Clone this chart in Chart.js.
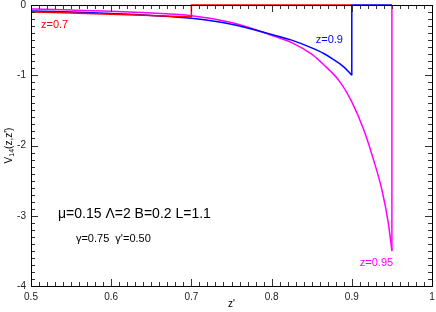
<!DOCTYPE html>
<html>
<head>
<meta charset="utf-8">
<script src="https://cdn.jsdelivr.net/npm/chart.js@4/dist/chart.umd.min.js"></script>
<style>
  body { margin: 0; background: #fff; }
  #wrap { width: 436px; height: 312px; }
</style>
</head>
<body>
<div id="wrap"><canvas id="chart" width="436" height="312"></canvas></div>
<script>
// valori
const xTicks = [0.5, 0.6, 0.7, 0.8, 0.9, 1.0];
const yTicks = [0, -1, -2, -3, -4];

// z = 0.7
const redX = [0.5, 0.55, 0.6, 0.65, 0.7];
const redY = [-0.10, -0.115, -0.132, -0.15, -0.17];
const redJumpX = [0.7, 0.7, 0.9];
const redJumpY = [-0.17, 0, 0];

// z = 0.9
const blueX = [0.5, 0.55, 0.6, 0.65, 0.7, 0.75, 0.8, 0.825, 0.85, 0.865, 0.875, 0.89, 0.9];
const blueY = [-0.085, -0.10, -0.122, -0.15, -0.19, -0.275, -0.42, -0.50, -0.61, -0.69, -0.76, -0.88, -1.0];
const blueJumpX = [0.9, 0.9, 0.95];
const blueJumpY = [-1.0, 0, 0];

// z = 0.95
const magX = [0.5, 0.55, 0.6, 0.65, 0.7, 0.75, 0.8, 0.825, 0.85, 0.865, 0.885, 0.9, 0.915, 0.927, 0.9375, 0.9455, 0.95];
const magY = [-0.057, -0.072, -0.09, -0.115, -0.152, -0.25, -0.43, -0.535, -0.70, -0.85, -1.09, -1.38, -1.78, -2.2, -2.63, -3.1, -3.5];
const magJumpX = [0.95, 0.95];
const magJumpY = [-3.5, 0];

// etichette nel grafico (coordinate dati)
const labels = [
  { text: 'z=0.7', x: 0.5125, y: -0.28, color: '#ff0000', size: 11 },
  { text: 'z=0.9', x: 0.855, y: -0.50, color: '#0000ff', size: 11 },
  { text: 'z=0.95', x: 0.910, y: -3.67, color: '#ff00ff', size: 11 },
  { text: 'μ=0.15 Λ=2 B=0.2 L=1.1', x: 0.5337, y: -2.97, color: '#000', size: 14 },
  { text: "γ=0.75  γ'=0.50", x: 0.556, y: -3.33, color: '#000', size: 11 }
];

const FONT = '"Liberation Sans", Arial, sans-serif';

function pts(xs, ys) {
  return xs.map((x, i) => ({ x: x, y: ys[i] }));
}

function curve(xs, ys, color) {
  return {
    data: pts(xs, ys),
    borderColor: color,
    borderWidth: 1.5,
    pointRadius: 0,
    cubicInterpolationMode: 'monotone',
    clip: 3
  };
}

function jump(xs, ys, color) {
  return {
    data: pts(xs, ys),
    borderColor: color,
    borderWidth: 1.5,
    pointRadius: 0,
    tension: 0,
    clip: 3
  };
}

// cornice, tacche interne e testi
const decorPlugin = {
  id: 'decor',
  afterDatasetsDraw(chart) {
    const ctx = chart.ctx;
    const a = chart.chartArea;
    const xs = chart.scales.x;
    const ys = chart.scales.y;
    ctx.save();
    ctx.strokeStyle = '#333';
    ctx.lineWidth = 1;
    ctx.beginPath();
    // tacche asse x (0.01)
    for (let i = 0; i <= 50; i++) {
      const v = 0.5 + i * 0.01;
      const px = Math.round(xs.getPixelForValue(v)) + 0.5;
      const len = (i % 10 === 0) ? 7 : 4;
      ctx.moveTo(px, a.bottom); ctx.lineTo(px, a.bottom - len);
      ctx.moveTo(px, a.top); ctx.lineTo(px, a.top + len);
    }
    // tacche asse y (0.1)
    for (let i = 0; i <= 40; i++) {
      const v = -i * 0.1;
      const py = Math.round(ys.getPixelForValue(v)) + 0.5;
      const len = (i % 10 === 0) ? 7 : 4;
      ctx.moveTo(a.left, py); ctx.lineTo(a.left + len, py);
      ctx.moveTo(a.right, py); ctx.lineTo(a.right - len, py);
    }
    ctx.stroke();
    ctx.strokeStyle = '#000';
    ctx.strokeRect(Math.round(a.left) + 0.5, Math.round(a.top) + 0.5,
                   Math.round(a.right - a.left), Math.round(a.bottom - a.top));

    // etichette
    ctx.textBaseline = 'middle';
    ctx.textAlign = 'left';
    labels.forEach(l => {
      ctx.fillStyle = l.color;
      ctx.font = l.size + 'px ' + FONT;
      ctx.fillText(l.text, xs.getPixelForValue(l.x), ys.getPixelForValue(l.y));
    });

    // titolo asse x
    ctx.fillStyle = '#000';
    ctx.font = '10px ' + FONT;
    ctx.textAlign = 'center';
    ctx.fillText("z'", (a.left + a.right) / 2, 304);

    // titolo asse y con pedice
    ctx.translate(9, (a.top + a.bottom) / 2);
    ctx.rotate(-Math.PI / 2);
    ctx.textAlign = 'left';
    const w1 = ctx.measureText('V').width;
    ctx.font = '7px ' + FONT;
    const w2 = ctx.measureText('14').width;
    ctx.font = '10px ' + FONT;
    const w3 = ctx.measureText("(z,z')").width;
    let x0 = -(w1 + w2 + w3) / 2;
    ctx.fillText('V', x0, 0);
    ctx.font = '7px ' + FONT;
    ctx.fillText('14', x0 + w1, 3);
    ctx.font = '10px ' + FONT;
    ctx.fillText("(z,z')", x0 + w1 + w2, 0);
    ctx.restore();
  }
};

new Chart(document.getElementById('chart'), {
  type: 'line',
  data: {
    datasets: [
      curve(redX, redY, '#ff0000'),
      jump(redJumpX, redJumpY, '#ff0000'),
      curve(blueX, blueY, '#0000ff'),
      jump(blueJumpX, blueJumpY, '#0000ff'),
      curve(magX, magY, '#ff00ff'),
      jump(magJumpX, magJumpY, '#ff00ff')
    ]
  },
  options: {
    responsive: false,
    animation: false,
    layout: { padding: { top: 5, right: 4, left: 0, bottom: 0 } },
    plugins: { legend: { display: false }, tooltip: { enabled: false } },
    scales: {
      x: {
        type: 'linear',
        min: 0.5,
        max: 1,
        afterBuildTicks: s => { s.ticks = xTicks.map(v => ({ value: v })); },
        afterFit: s => { s.height = 26; s.paddingLeft = 0; s.paddingRight = 0; },
        grid: { display: false, drawTicks: false },
        border: { display: false },
        ticks: {
          padding: 5,
          color: '#222',
          font: { family: FONT, size: 10 },
          callback: v => (v === 1 ? '1' : v.toFixed(1))
        }
      },
      y: {
        type: 'linear',
        min: -4,
        max: 0,
        afterBuildTicks: s => { s.ticks = yTicks.map(v => ({ value: v })); },
        afterFit: s => { s.width = 31; s.paddingTop = 0; s.paddingBottom = 0; },
        grid: { display: false, drawTicks: false },
        border: { display: false },
        ticks: {
          padding: 5,
          color: '#222',
          font: { family: FONT, size: 10 },
          callback: v => String(v)
        }
      }
    }
  },
  plugins: [decorPlugin]
});
</script>
</body>
</html>
